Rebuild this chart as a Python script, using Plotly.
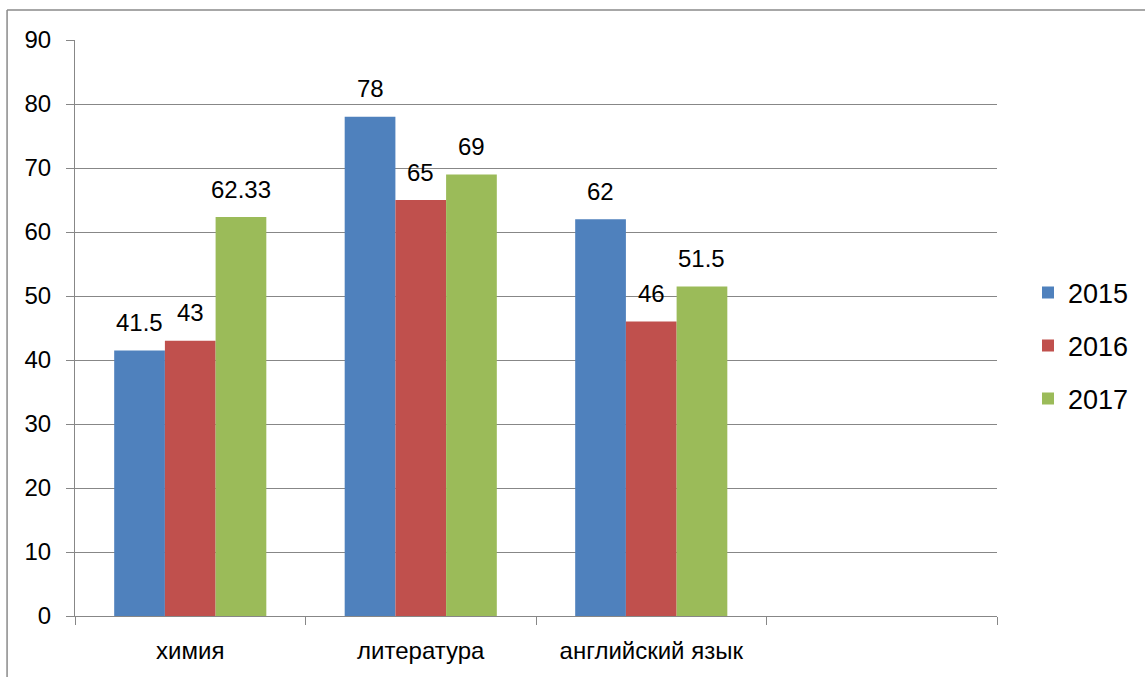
import plotly.graph_objects as go

categories = ["химия", "литература", "английский язык"]
empty_category = " "
series_names = ["2015", "2016", "2017"]
values_2015 = [41.5, 78, 62]
values_2016 = [43, 65, 46]
values_2017 = [62.33, 69, 51.5]
label_2015 = ["41.5", "78", "62"]
label_2016 = ["43", "65", "46"]
label_2017 = ["62.33", "69", "51.5"]
colors = ["#4F81BD", "#C0504D", "#9BBB59"]
y_ticks = [0, 10, 20, 30, 40, 50, 60, 70, 80, 90]

FONT = "Liberation Sans"
GRID = "#878787"

series = [values_2015, values_2016, values_2017]
labels = [label_2015, label_2016, label_2017]

fig = go.Figure()
for i, (name, vals, col) in enumerate(zip(series_names, series, colors)):
    fig.add_trace(go.Bar(
        x=categories, y=vals, name=name, marker_color=col,
        marker_line_width=0, legendgroup=name,
    ))

bargap = 0.34
bar_w = (1 - bargap) / 3
for i, (vals, labs) in enumerate(zip(series, labels)):
    off = (i - 1) * bar_w
    for j, (v, t) in enumerate(zip(vals, labs)):
        fig.add_annotation(
            x=j + off, y=v, xref="x", yref="y", text=t, showarrow=False,
            yanchor="middle", yshift=28,
            font=dict(family=FONT, size=24, color="black"),
        )

border = dict(color="#8a8a8a", width=1.5)
bx0 = (7 - 75) / 923
by1 = (616 - 10) / 576

fig.update_layout(
    width=1145, height=677,
    margin=dict(l=75, r=147, t=40, b=61),
    paper_bgcolor="white", plot_bgcolor="white",
    barmode="group", bargap=bargap, bargroupgap=0,
    font=dict(family=FONT, size=24, color="black"),
    showlegend=True,
    legend=dict(
        x=1.0325, xanchor="left", y=0.469, yanchor="middle",
        font=dict(family=FONT, size=27, color="black"),
        tracegroupgap=15, itemclick=False,
    ),
    xaxis=dict(
        type="category",
        categoryorder="array",
        categoryarray=categories + [empty_category],
        range=[-0.5, 3.5],
        tickson="boundaries", ticks="outside", ticklen=8, tickcolor=GRID,
        showgrid=False, showline=True, linecolor=GRID, linewidth=1,
        ticklabelstandoff=13,
        tickfont=dict(family=FONT, size=24, color="black"),
        fixedrange=True,
    ),
    yaxis=dict(
        range=[0, 90], tickvals=y_ticks,
        ticks="outside", ticklen=8, tickcolor=GRID,
        showgrid=True, gridcolor=GRID, gridwidth=1,
        showline=True, linecolor=GRID, linewidth=1,
        zeroline=False,
        ticklabelstandoff=10,
        tickfont=dict(family=FONT, size=24, color="black"),
        fixedrange=True,
    ),
    shapes=[
        dict(type="line", xref="paper", yref="paper",
             x0=bx0, x1=1.2, y0=by1, y1=by1, line=border, layer="above"),
        dict(type="line", xref="paper", yref="paper",
             x0=bx0, x1=bx0, y0=-0.2, y1=by1, line=border, layer="above"),
    ],
)

fig.write_html(
    "out.html",
    config={"displayModeBar": False},
    post_script="document.body.style.margin='0';document.body.style.overflow='hidden';",
)
